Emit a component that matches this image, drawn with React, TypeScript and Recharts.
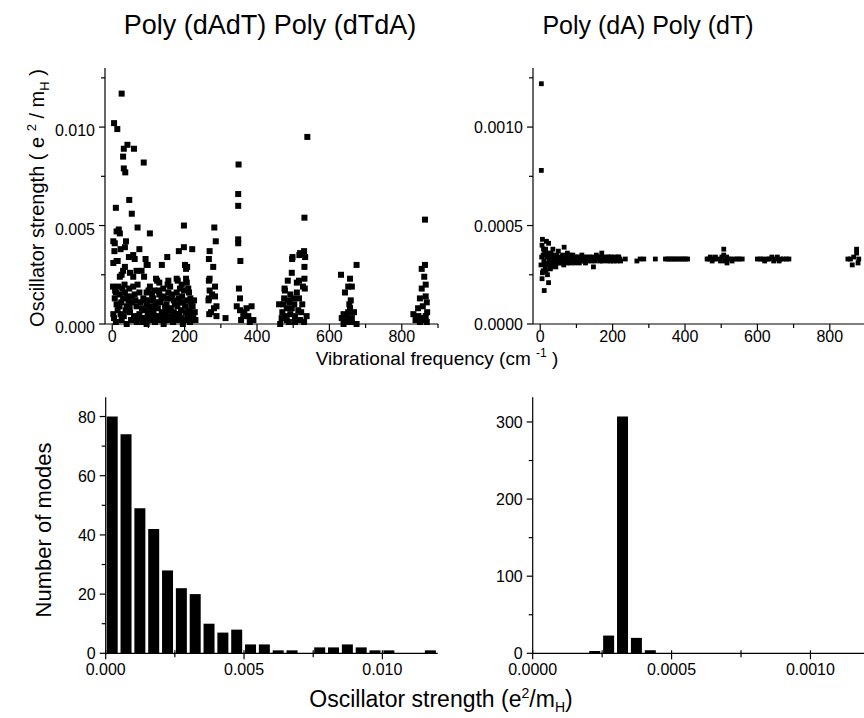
import React from 'react';
import { ScatterChart, Scatter, BarChart, Bar, XAxis, YAxis } from 'recharts';

const FONT = "'Liberation Sans', Arial, Helvetica, sans-serif";

// Poly(dAdT)-Poly(dTdA): [vibrational frequency (cm-1), oscillator strength]
const dAdTLowBand: [number, number][] = [
  [26, 0.0117], [5, 0.0102], [14, 0.0099], [42, 0.0091], [32, 0.0089], [60, 0.0089], [30, 0.0085], [87, 0.0082], [32, 0.0079], [36, 0.0077],
  [47, 0.0063], [10, 0.0059], [54, 0.0056], [70, 0.0049], [104, 0.0046], [12, 0.0047], [18, 0.0048], [21, 0.0046], [198, 0.005],
  [3, 0.0042], [38, 0.0042], [7, 0.0041], [6, 0.0037], [23, 0.0038], [35, 0.0039], [75, 0.0038], [198, 0.0039], [184, 0.0037], [221, 0.0038],
  [12, 0.0032], [46, 0.0034], [58, 0.0035], [62, 0.0033], [92, 0.0033], [152, 0.0034], [137, 0.003], [98, 0.003], [3, 0.0031], [15, 0.0032],
  [201, 0.003], [204, 0.0028], [207, 0.0029], [35, 0.0029], [67, 0.0027], [95, 0.003], [30, 0.0027], [81, 0.0027], [21, 0.0024], [26, 0.0025],
  [49, 0.0026], [58, 0.0024], [88, 0.0024], [121, 0.0023], [124, 0.0022], [155, 0.0022], [178, 0.0023], [204, 0.0023], [206, 0.0021], [130, 0.0021],
  [153, 0.002], [181, 0.0022], [17, 0.0019], [47, 0.0018], [58, 0.0019], [70, 0.002], [100, 0.0017], [104, 0.0019], [116, 0.0017], [141, 0.0018],
  [160, 0.0019], [187, 0.0018], [192, 0.002], [210, 0.0018], [8, 0.0017], [34, 0.002], [10, 0.0016], [35, 0.0016], [75, 0.0016], [95, 0.0016],
  [155, 0.0016], [178, 0.0016], [212, 0.0016], [7, 0.0013], [30, 0.0013], [54, 0.0014], [86, 0.0013], [113, 0.0013], [141, 0.0014], [163, 0.0013],
  [193, 0.0014], [216, 0.0013], [130, 0.0015], [62, 0.0015], [120, 0.0011], [12, 0.001], [40, 0.0009], [67, 0.0009], [95, 0.001], [118, 0.0009],
  [146, 0.0009], [173, 0.001], [201, 0.0009], [218, 0.001], [25, 0.0011], [55, 0.0011], [82, 0.0008], [108, 0.0008], [133, 0.0011], [160, 0.0008],
  [188, 0.0011], [213, 0.0007], [3, 0.0005], [23, 0.0005], [49, 0.0006], [75, 0.0005], [100, 0.0006], [123, 0.0004], [148, 0.0005], [176, 0.0005],
  [204, 0.0006], [219, 0.0005], [15, 0.0007], [37, 0.0007], [88, 0.0007], [112, 0.0007], [137, 0.0006], [162, 0.0007], [190, 0.0007], [228, 0.0006],
  [5, 0.0003], [26, 0.0002], [56, 0.0002], [81, 0.0003], [104, 0.0002], [130, 0.0002], [155, 0.0002], [182, 0.0002], [207, 0.0003], [224, 0.0003],
  [10, 0.0001], [40, 0], [68, 0.0001], [95, 0], [118, 0.0001], [142, 0], [168, 0.0001], [195, 0], [215, 0.0001], [110, 0.0003],
  [140, 0.0003], [165, 0.0003], [190, 0.0003], [60, 0.0004], [90, 0.0003], [150, 0.001], [170, 0.0012], [105, 0.0012], [45, 0.0012],
  [2, 0.0019], [20, 0.0015], [28, 0.0018], [40, 0.0014], [44, 0.0007], [52, 0.0002], [64, 0.0012], [72, 0.0004], [78, 0.0011], [84, 0.0001],
  [92, 0.0012], [98, 0.0004], [102, 0.0009], [110, 0.0015], [114, 0.0005], [126, 0.0008], [128, 0.0017], [134, 0.0004], [136, 0.0013], [145, 0.0002],
  [150, 0.0007], [152, 0.0013], [158, 0.0004], [166, 0.0015], [170, 0.0006], [174, 0.0002], [180, 0.0009], [184, 0.0013], [186, 0.0005], [196, 0.0011],
  [198, 0.0017], [200, 0.0002], [208, 0.0012], [210, 0.0004], [222, 0.0009], [226, 0.0012], [230, 0.0002], [20, 0.0009], [32, 0.0004], [48, 0.0009],
];
const dAdTBand280: [number, number][] = [
  [282, 0.0049], [286, 0.0042], [269, 0.0037], [267, 0.0033], [279, 0.0029], [269, 0.0023], [267, 0.0022], [284, 0.0019], [269, 0.0017], [276, 0.0015],
  [267, 0.0013], [288, 0.0009], [273, 0.0006], [288, 0.0004], [313, 0.0003], [266, 0.0012], [281, 0.0008], [268, 0.0005], [284, 0.0014],
];
const dAdTBand360: [number, number][] = [
  [349, 0.0081], [348, 0.0066], [348, 0.006], [348, 0.0043], [348, 0.0041], [354, 0.0032], [350, 0.0018], [353, 0.0013], [353, 0.0007], [371, 0.0008],
  [385, 0.0009], [365, 0.0006], [376, 0.0004], [390, 0.0002], [356, 0.0002], [362, 0.0004], [344, 0.0009], [380, 0.0001],
];
const dAdTBand510: [number, number][] = [
  [539, 0.0095], [531, 0.0054], [530, 0.0037], [519, 0.0036], [498, 0.0034], [533, 0.0034], [531, 0.0029], [496, 0.0026], [485, 0.0022], [516, 0.0022],
  [531, 0.0023], [476, 0.0018], [532, 0.0018], [477, 0.0017], [475, 0.0013], [500, 0.0013], [516, 0.0013], [492, 0.0015], [473, 0.001], [461, 0.001],
  [496, 0.0008], [482, 0.0008], [514, 0.0007], [477, 0.0004], [505, 0.0004], [537, 0.0004], [505, 0.0001], [519, 0.0002], [482, 0.0002], [464, 0],
  [510, 0.0021], [497, 0.0033], [517, 0.0035], [525, 0.001], [490, 0.0011], [470, 0.0006], [486, 0.0012], [492, 0.0005], [503, 0.001], [510, 0.0016],
  [522, 0.0006], [527, 0.0019], [488, 0.0001], [530, 0.0001], [468, 0.0003],
];
const dAdTBand650: [number, number][] = [
  [675, 0.003], [632, 0.0025], [657, 0.0023], [652, 0.0019], [662, 0.0019], [643, 0.0016], [659, 0.0012], [652, 0.0006], [657, 0.0008], [639, 0.0005],
  [634, 0.0003], [648, 0.0004], [662, 0.0003], [648, 0.0001], [675, 0], [639, 0], [655, 0.001], [645, 0.0002], [660, 0.0001], [668, 0.0006],
];
const dAdTBand860: [number, number][] = [
  [864, 0.0053], [864, 0.003], [855, 0.0028], [862, 0.0024], [866, 0.002], [855, 0.0018], [850, 0.0013], [866, 0.0014], [869, 0.0011], [832, 0.0005],
  [846, 0.0004], [866, 0.0004], [864, 0.0002], [850, 0.0001], [869, 0.0001], [858, 0.0009], [838, 0.0002], [845, 0.0008], [870, 0.0006], [853, 0.0003],
];

// Poly(dA)-Poly(dT): [vibrational frequency (cm-1), oscillator strength]
const dAOutliers: [number, number][] = [
  [3, 0.00122], [3, 0.00078], [6, 0.00043], [17, 0.00042], [23, 0.00041], [5, 0.0004], [66, 0.00039], [35, 0.00038], [50, 0.00037],
  [5, 0.00023], [23, 0.00021], [11, 0.00017], [8, 0.00027], [14, 0.00029], [20, 0.00025], [28, 0.00028],
];
const dALowBand: [number, number][] = [
  [12, 0.00036], [10, 0.00032], [18, 0.00034], [30, 0.00036], [40, 0.0003], [45, 0.00035], [55, 0.00031], [60, 0.00034], [70, 0.00032], [83, 0.00031],
  [90, 0.00035], [100, 0.00034], [110, 0.00033], [120, 0.00032], [130, 0.00034], [147, 0.00029], [140, 0.00033], [160, 0.00034], [170, 0.00036], [180, 0.00033],
  [190, 0.00034], [200, 0.00033], [210, 0.00033], [220, 0.00033], [25, 0.00032], [35, 0.0003], [15, 0.00038], [48, 0.00033], [75, 0.00036], [95, 0.00031],
  [115, 0.00035], [125, 0.00031], [150, 0.00033], [165, 0.00032], [185, 0.00032], [205, 0.00034], [8, 0.00035], [22, 0.00035], [32, 0.00033], [42, 0.00032],
  [65, 0.0003], [80, 0.00034], [105, 0.00032], [135, 0.00033], [155, 0.00035], [175, 0.00033], [195, 0.00032], [215, 0.00034],
  [2, 0.0003], [4, 0.00034], [6, 0.00026], [9, 0.00038], [13, 0.00031], [16, 0.00027], [19, 0.00036], [21, 0.0003], [24, 0.00035], [27, 0.00033],
  [29, 0.00031], [31, 0.00029], [33, 0.00035], [37, 0.00032], [39, 0.00034], [43, 0.00029], [46, 0.00031], [51, 0.00034], [53, 0.00032], [57, 0.00033],
  [59, 0.00031], [62, 0.00035], [64, 0.00033], [68, 0.00034], [72, 0.00033], [74, 0.00031], [77, 0.00033], [79, 0.00032], [82, 0.00035], [85, 0.00033],
  [87, 0.00032], [92, 0.00033], [97, 0.00034], [98, 0.00032], [102, 0.00033], [107, 0.00034], [108, 0.00031], [112, 0.00032], [117, 0.00033], [122, 0.00034],
  [127, 0.00033], [132, 0.00032], [137, 0.00034], [142, 0.00032], [145, 0.00034], [152, 0.00032], [157, 0.00033], [162, 0.00033], [167, 0.00034], [172, 0.00032],
  [177, 0.00034], [182, 0.00033], [187, 0.00034], [192, 0.00033], [197, 0.00034], [202, 0.00032], [207, 0.00033], [212, 0.00032], [217, 0.00034], [222, 0.00032],
];
const dAHighBand: [number, number][] = [
  [235, 0.00033], [267, 0.00032], [276, 0.00033], [286, 0.00033], [318, 0.00033], [346, 0.00033], [352, 0.00033], [358, 0.00033], [364, 0.00033], [370, 0.00033],
  [376, 0.00033], [383, 0.00033], [389, 0.00033], [395, 0.00033], [401, 0.00033], [407, 0.00033],
  [461, 0.00033], [466, 0.00033], [470, 0.00034], [475, 0.00032], [480, 0.00033], [484, 0.00034], [490, 0.00033], [498, 0.00032], [502, 0.00034], [507, 0.00038],
  [507, 0.00035], [511, 0.00032], [515, 0.00034], [516, 0.00031], [520, 0.00033], [525, 0.00033], [530, 0.00032], [536, 0.00033], [544, 0.00033], [550, 0.00033],
  [558, 0.00033], [600, 0.00033], [608, 0.00033], [615, 0.00033], [620, 0.00032], [627, 0.00033], [633, 0.00033], [640, 0.00034], [645, 0.00032], [650, 0.00033],
  [655, 0.00034], [660, 0.00032], [664, 0.00033], [672, 0.00033], [680, 0.00033], [687, 0.00033],
  [850, 0.00033], [857, 0.00033], [862, 0.0003], [866, 0.00034], [874, 0.00036], [874, 0.00038], [878, 0.00031], [880, 0.00033],
];

// histograms of oscillator strength (bin centres and counts)
const dAdTBins = [
  0.00025, 0.00075, 0.00125, 0.00175, 0.00225, 0.00275, 0.00325, 0.00375, 0.00425, 0.00475, 0.00525, 0.00575,
  0.00625, 0.00675, 0.00725, 0.00775, 0.00825, 0.00875, 0.00925, 0.00975, 0.01025, 0.01075, 0.01125, 0.01175,
];
const dAdTCounts = [80, 74, 49, 42, 28, 22, 20, 10, 7, 8, 3, 3, 1, 1, 0, 2, 2, 3, 2, 1, 1, 0, 0, 1];
const dABins = [
  0.000025, 0.000075, 0.000125, 0.000175, 0.000225, 0.000275, 0.000325, 0.000375, 0.000425, 0.000475, 0.000525, 0.000575,
  0.000625, 0.000675, 0.000725, 0.000775, 0.000825, 0.000875, 0.000925, 0.000975, 0.001025, 0.001075, 0.001125, 0.001175,
];
const dACounts = [0, 0, 0, 0, 3, 23, 307, 20, 4, 0, 0, 0, 0, 0, 0, 0, 0, 0, 0, 0, 0, 0, 0, 0];

// ticks (major ones get labels)
const freqTicks = [0, 100, 200, 300, 400, 500, 600, 700, 800, 900];
const dAdTStrengthTicks = [0, 0.0025, 0.005, 0.0075, 0.01, 0.0125];
const dAStrengthTicks = [0, 0.00025, 0.0005, 0.00075, 0.001, 0.00125];
const dAdTHistXTicks = [0, 0.0025, 0.005, 0.0075, 0.01];
const dAHistXTicks = [0, 0.00025, 0.0005, 0.00075, 0.001];
const dAdTHistYTicks = [0, 10, 20, 30, 40, 50, 60, 70, 80];
const dAHistYTicks = [0, 50, 100, 150, 200, 250, 300];

const toPoints = (...groups: [number, number][][]) =>
  groups.flat().map(([freq, strength]) => ({ freq, strength }));

const dAdTPoints = toPoints(dAdTLowBand, dAdTBand280, dAdTBand360, dAdTBand510, dAdTBand650, dAdTBand860);
const dAPoints = toPoints(dAOutliers, dALowBand, dAHighBand);
const dAdTHist = dAdTBins.map((bin, i) => ({ bin, count: dAdTCounts[i] }));
const dAHist = dABins.map((bin, i) => ({ bin, count: dACounts[i] }));

const isMajor = (v: number, step: number) => Math.abs(v / step - Math.round(v / step)) < 1e-6;

const leftTick = (step: number, fmt: (v: number) => string, dy: number) => (props: any) => {
  const { x, y, payload } = props;
  const major = isMajor(payload.value, step);
  return (
    <g>
      <line x1={x - (major ? 6 : 4)} y1={y} x2={x} y2={y} stroke="#000" strokeWidth={1.2} />
      {major && (
        <text x={x - 10} y={y + dy} textAnchor="end" fontSize={16} fontFamily={FONT} fill="#000">
          {fmt(payload.value)}
        </text>
      )}
    </g>
  );
};

const bottomTick = (step: number, fmt: (v: number) => string, up: number, dy: number) => (props: any) => {
  const { x, y, payload } = props;
  const major = isMajor(payload.value, step);
  return (
    <g>
      <line x1={x} y1={y - up} x2={x} y2={y + (major ? 6 : 4)} stroke="#000" strokeWidth={1.2} />
      {major && (
        <text x={x} y={y + dy} textAnchor="middle" fontSize={16} fontFamily={FONT} fill="#000">
          {fmt(payload.value)}
        </text>
      )}
    </g>
  );
};

const square = (size: number) => (props: any) => (
  <rect x={props.cx - size / 2} y={props.cy - size / 2} width={size} height={size} fill="#000" />
);

const axisCommon = {
  tickSize: 0,
  tickMargin: 0,
  tickLine: false,
  interval: 0 as const,
  axisLine: { stroke: '#000', strokeWidth: 1.2 },
};

export default function App() {
  return (
    <div
      style={{
        position: 'absolute',
        left: 0,
        top: 0,
        width: 864,
        height: 718,
        overflow: 'hidden',
        background: '#fff',
        fontFamily: FONT,
      }}
    >
      {/* top left: Poly (dAdT) Poly (dTdA) */}
      <div style={{ position: 'absolute', left: 0, top: 0 }}>
        <ScatterChart width={450} height={380} margin={{ top: 68, right: 12, bottom: 16, left: 45 }}>
          <XAxis
            {...axisCommon}
            type="number"
            dataKey="freq"
            domain={[-20, 900]}
            ticks={freqTicks}
            height={40}
            tick={bottomTick(200, (v) => String(v), 0, 18)}
          />
          <YAxis
            {...axisCommon}
            type="number"
            dataKey="strength"
            domain={[0, 0.013]}
            ticks={dAdTStrengthTicks}
            width={60}
            tick={leftTick(0.005, (v) => v.toFixed(3), 9)}
          />
          <Scatter data={dAdTPoints} fill="#000" shape={square(6)} isAnimationActive={false} />
        </ScatterChart>
      </div>

      {/* top right: Poly (dA) Poly (dT) */}
      <div style={{ position: 'absolute', left: 450, top: 0 }}>
        <ScatterChart width={420} height={380} margin={{ top: 68, right: 4, bottom: 16, left: 13 }}>
          <XAxis
            {...axisCommon}
            type="number"
            dataKey="freq"
            domain={[-20, 900]}
            ticks={freqTicks}
            height={40}
            tick={bottomTick(200, (v) => String(v), 0, 18)}
          />
          <YAxis
            {...axisCommon}
            type="number"
            dataKey="strength"
            domain={[0, 0.0013]}
            ticks={dAStrengthTicks}
            width={70}
            tick={leftTick(0.0005, (v) => v.toFixed(4), 6)}
          />
          <Scatter data={dAPoints} fill="#000" shape={square(4.8)} isAnimationActive={false} />
        </ScatterChart>
      </div>

      {/* bottom left histogram */}
      <div style={{ position: 'absolute', left: 0, top: 330 }}>
        <BarChart width={450} height={380} data={dAdTHist} margin={{ top: 67.3, right: 12.3, bottom: 16.7, left: 45.7 }}>
          <XAxis
            {...axisCommon}
            type="number"
            dataKey="bin"
            domain={[0, 0.012]}
            ticks={dAdTHistXTicks}
            height={40}
            tick={bottomTick(0.005, (v) => v.toFixed(3), 3, 22)}
          />
          <YAxis
            {...axisCommon}
            type="number"
            domain={[0, 86.5]}
            ticks={dAdTHistYTicks}
            width={60}
            tick={leftTick(20, (v) => String(v), 6)}
          />
          <Bar dataKey="count" fill="#000" barSize={11} isAnimationActive={false} />
        </BarChart>
      </div>

      {/* bottom right histogram */}
      <div style={{ position: 'absolute', left: 450, top: 330 }}>
        <BarChart width={420} height={380} data={dAHist} margin={{ top: 67.3, right: 4, bottom: 16.7, left: 12.7 }}>
          <XAxis
            {...axisCommon}
            type="number"
            dataKey="bin"
            domain={[0, 0.0012]}
            ticks={dAHistXTicks}
            height={40}
            tick={bottomTick(0.0005, (v) => v.toFixed(4), 3, 22)}
          />
          <YAxis
            {...axisCommon}
            type="number"
            domain={[0, 332]}
            ticks={dAHistYTicks}
            width={70}
            tick={leftTick(100, (v) => String(v), 6)}
          />
          <Bar dataKey="count" fill="#000" barSize={11} isAnimationActive={false} />
        </BarChart>
      </div>

      {/* titles and axis labels */}
      <svg
        width={864}
        height={718}
        style={{ position: 'absolute', left: 0, top: 0, pointerEvents: 'none' }}
        fontFamily={FONT}
        fill="#000"
      >
        <text x={270} y={34} textAnchor="middle" fontSize={27}>Poly (dAdT) Poly (dTdA)</text>
        <text x={648} y={34} textAnchor="middle" fontSize={25}>Poly (dA) Poly (dT)</text>
        <text transform="translate(44,198) rotate(-90)" textAnchor="middle" fontSize={20}>
          Oscillator strength ( e <tspan dy={-8} fontSize={13}>2</tspan>
          <tspan dy={8}> / m</tspan>
          <tspan dy={5} fontSize={13}>H</tspan>
          <tspan dy={-5}> )</tspan>
        </text>
        <text x={437} y={365} textAnchor="middle" fontSize={19}>
          Vibrational frequency (cm <tspan dy={-8} fontSize={12}>-1</tspan>
          <tspan dy={8}> )</tspan>
        </text>
        <text transform="translate(51,530) rotate(-90)" textAnchor="middle" fontSize={22}>Number of modes</text>
        <text x={441} y={707} textAnchor="middle" fontSize={23}>
          Oscillator strength (e<tspan dy={-9} fontSize={14}>2</tspan>
          <tspan dy={9}>/m</tspan>
          <tspan dy={5} fontSize={14}>H</tspan>
          <tspan dy={-5}>)</tspan>
        </text>
      </svg>
    </div>
  );
}
